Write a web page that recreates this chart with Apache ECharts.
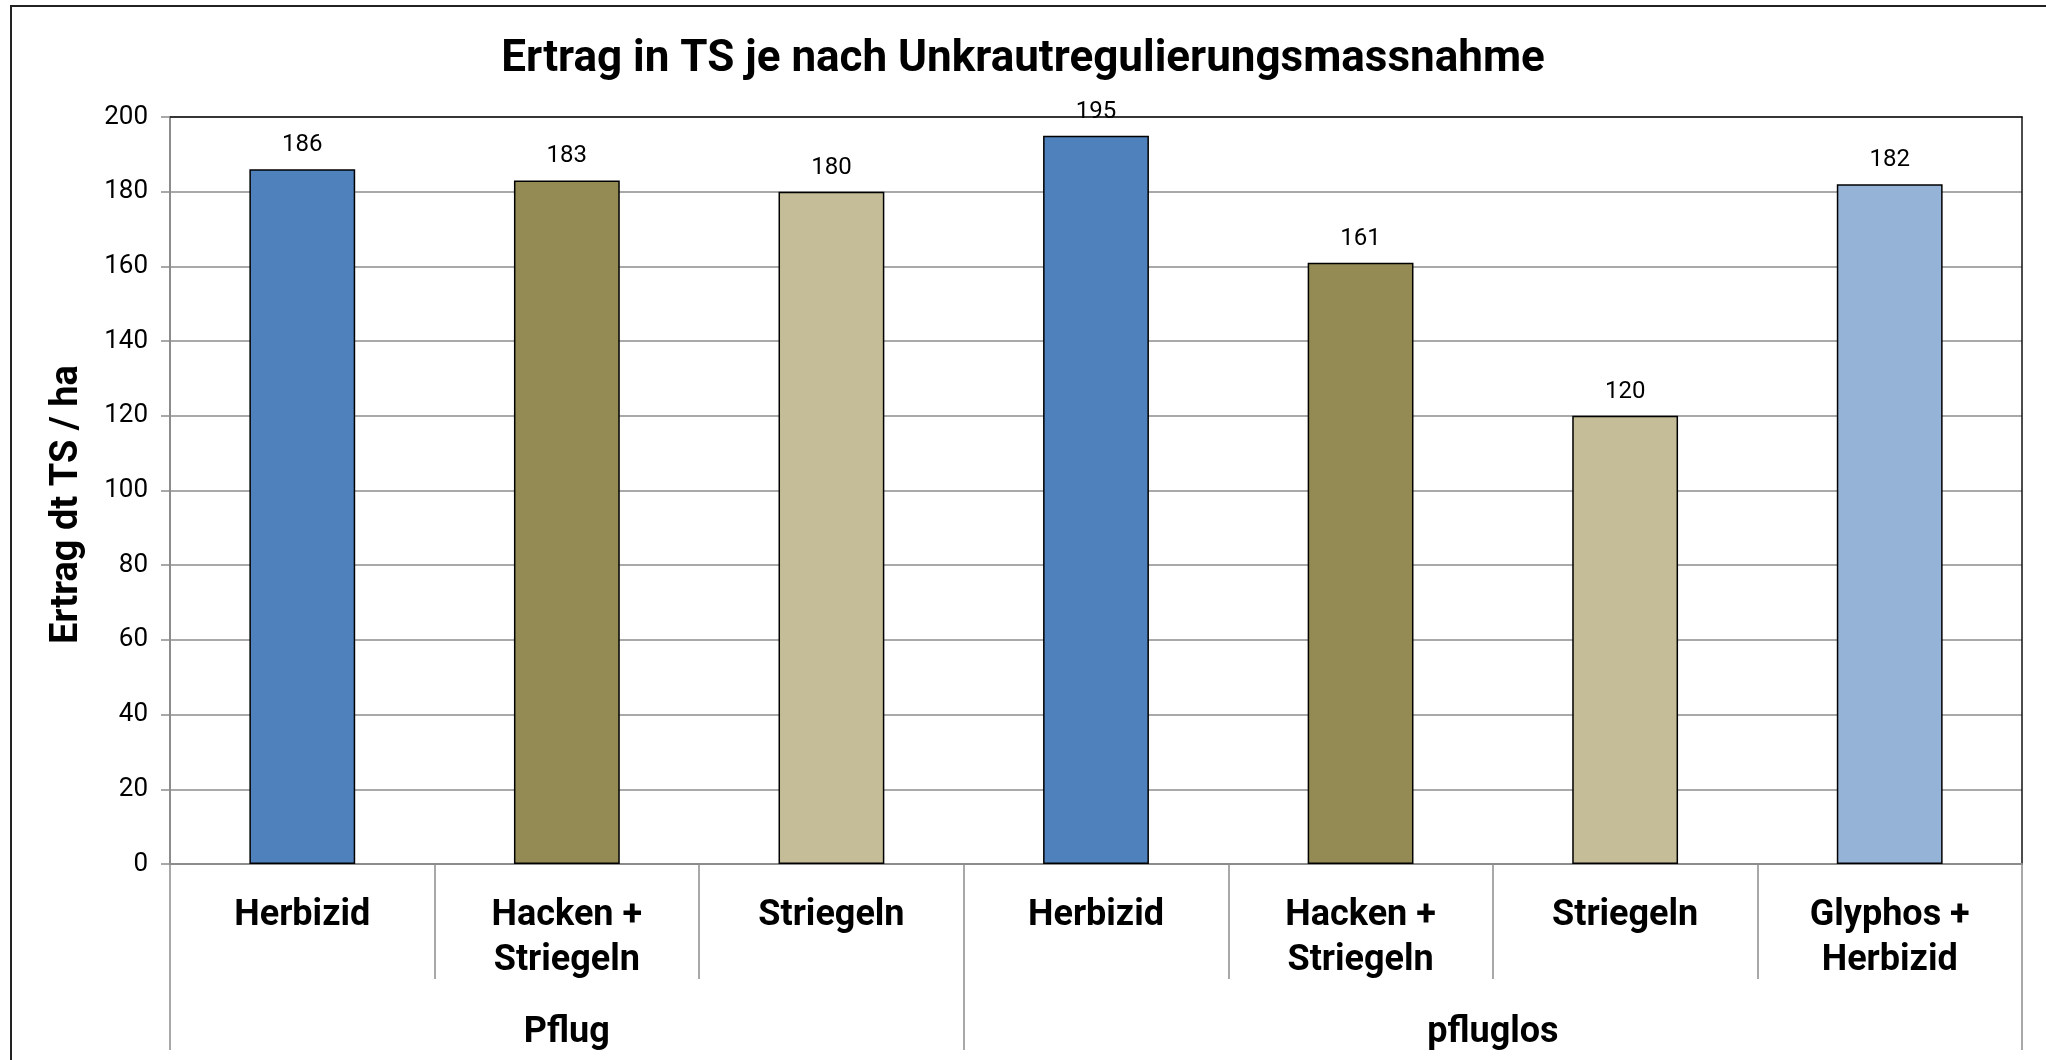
<!DOCTYPE html>
<html>
<head>
<meta charset="utf-8">
<script src="https://cdn.jsdelivr.net/npm/echarts@6/dist/echarts.min.js"></script>
<style>
html,body{margin:0;padding:0;background:#fff;}
#frame{position:absolute;left:10px;top:5px;width:2100px;height:1100px;border:2px solid #222;box-sizing:border-box;}
#chart{position:absolute;left:0;top:0;width:2046px;height:1060px;}
</style>
</head>
<body>
<div id="frame"></div>
<div id="chart"></div>
<script>
const titleText = 'Ertrag in TS je nach Unkrautregulierungsmassnahme';
const yAxisTitle = 'Ertrag dt TS / ha';
const categories = ['Herbizid', 'Hacken +\nStriegeln', 'Striegeln', 'Herbizid', 'Hacken +\nStriegeln', 'Striegeln', 'Glyphos +\nHerbizid'];
const groups = ['Pflug', 'pfluglos'];
const groupSizes = [3, 4];
const values = [186, 183, 180, 195, 161, 120, 182];
const barColors = ['#4F81BD', '#948A54', '#C4BD97', '#4F81BD', '#948A54', '#C4BD97', '#95B3D7'];
const yTicks = [0, 20, 40, 60, 80, 100, 120, 140, 160, 180, 200];

// group boundaries and centers derived from group sizes
const groupBounds = [0];
const groupCenters = [];
groupSizes.forEach(s => { const start = groupBounds[groupBounds.length - 1]; groupCenters.push(start + s / 2); groupBounds.push(start + s); });

const FONT = 'Roboto, "Liberation Sans", sans-serif';
const GRID = '#8c8c8c';

const chart = echarts.init(document.getElementById('chart'), null, {renderer: 'canvas'});
chart.setOption({
  animation: false,
  backgroundColor: 'transparent',
  title: {
    text: titleText, left: 'center', top: 33,
    textStyle: {fontFamily: FONT, fontSize: 44, fontWeight: 'bold', color: '#000'}
  },
  grid: {left: 170, right: 24, top: 117, bottom: 196},
  xAxis: [{
    type: 'category', data: categories, position: 'bottom',
    axisLine: {show: true, lineStyle: {color: GRID, width: 2}},
    axisTick: {show: true, interval: 0, length: 115, lineStyle: {color: GRID, width: 1.5}},
    axisLabel: {interval: 0, fontFamily: FONT, fontSize: 36, fontWeight: 'bold', color: '#000', lineHeight: 45, margin: 29}
  }, {
    type: 'value', min: 0, max: groupBounds[groupBounds.length - 1], position: 'bottom',
    axisLine: {show: false}, splitLine: {show: false},
    axisTick: {show: true, customValues: groupBounds, length: 186, lineStyle: {color: GRID, width: 1.5}},
    axisLabel: {customValues: groupCenters, fontFamily: FONT, fontSize: 36, fontWeight: 'bold', color: '#000', margin: 151,
      formatter: v => { const i = groupCenters.indexOf(v); return i >= 0 ? groups[i] : ''; }}
  }, {
    type: 'category', data: categories, position: 'top',
    axisLine: {show: true, lineStyle: {color: '#111', width: 1.5}},
    axisTick: {show: false}, axisLabel: {show: false}
  }],
  yAxis: [{
    type: 'value', min: yTicks[0], max: yTicks[yTicks.length - 1], interval: yTicks[1] - yTicks[0],
    name: yAxisTitle, nameLocation: 'middle', nameGap: 84, nameRotate: 90,
    nameTextStyle: {fontFamily: FONT, fontSize: 38, fontWeight: 'bold', color: '#000', padding: [0, 28, 0, 0]},
    axisLine: {show: true, lineStyle: {color: GRID, width: 2}},
    axisTick: {show: true, length: 9, lineStyle: {color: GRID, width: 1.5}},
    axisLabel: {fontFamily: FONT, fontSize: 26, color: '#000', margin: 22},
    splitLine: {show: true, lineStyle: {color: GRID, width: 1.5}}
  }, {
    type: 'value', min: yTicks[0], max: yTicks[yTicks.length - 1], interval: yTicks[1] - yTicks[0], position: 'right',
    axisLine: {show: true, lineStyle: {color: '#111', width: 1.5}},
    axisTick: {show: false}, axisLabel: {show: false}, splitLine: {show: false}
  }],
  series: [{
    type: 'bar', xAxisIndex: 0, yAxisIndex: 0, barWidth: '40%',
    data: values.map((v, i) => ({value: v, itemStyle: {color: barColors[i]}})),
    itemStyle: {borderColor: '#000', borderWidth: 1.5},
    label: {show: true, position: 'top', distance: 12, fontFamily: FONT, fontSize: 24, color: '#000'}
  }]
});
</script>
</body>
</html>
